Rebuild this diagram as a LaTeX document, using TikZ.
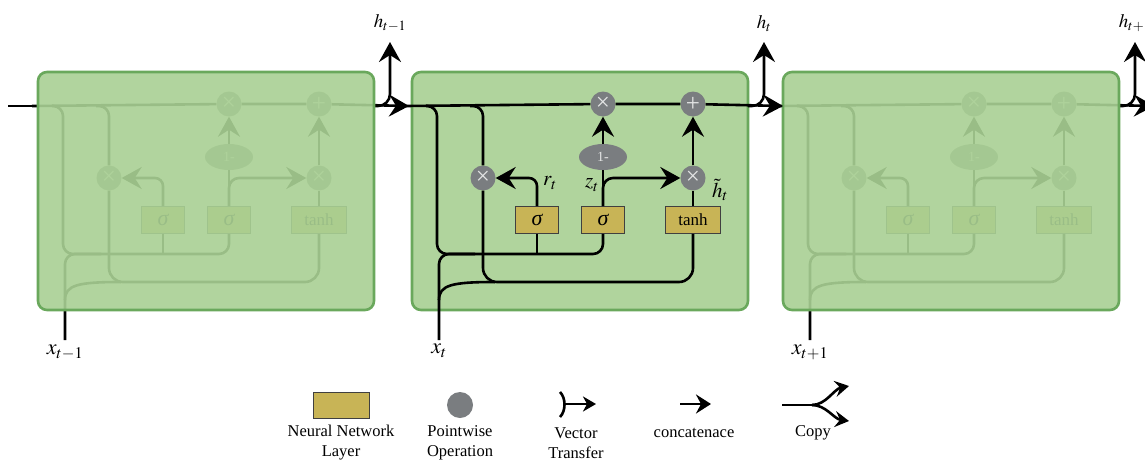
\documentclass[tikz,border=0pt]{standalone}
\usepackage{mathptmx}
\usepackage{fontspec}
\setmainfont{Liberation Serif}
\usetikzlibrary{arrows.meta}
\usetikzlibrary{shapes.geometric}
\usetikzlibrary{positioning}

\definecolor{cellgreen}{RGB}{176,212,157}
\definecolor{sidegreen}{RGB}{169,208,148}
\definecolor{celledge}{RGB}{106,168,92}
\definecolor{layergold}{RGB}{200,180,86}
\definecolor{opgray}{RGB}{122,125,128}

\tikzset{
  wire/.style={line width=2.6pt},
  vt/.style={wire,-{Stealth[length=20pt,width=22pt,inset=7pt]}},
  cellbox/.style={draw=celledge,fill=cellgreen,line width=2.6pt,rounded corners=9pt,minimum width=336pt,minimum height=238pt},
  layer/.style={draw=black!75,fill=layergold,line width=0.8pt,minimum height=27pt,inner sep=0pt,font=\fontsize{22}{22}\selectfont\itshape},
  pw/.style={circle,fill=opgray,minimum size=25pt,inner sep=0pt,text=white!80!opgray,font=\fontsize{25}{25}\selectfont},
  lbl/.style={inner sep=0pt,font=\fontsize{21}{21}\selectfont},
  hlbl/.style={inner sep=0pt,font=\fontsize{19}{19}\selectfont},
  legtext/.style={align=center,font=\fontsize{16.5}{20}\selectfont},
}

% one GRU cell, #1 = name prefix, #2 = shift
\newcommand{\grucell}[2]{%
\begin{scope}[xshift=#2]
\node[pw] (#1mulz) at (603,104) {×};
\node[pw] (#1add) at (693,104) {+};
\node[ellipse,fill=opgray,minimum width=48pt,minimum height=26pt,inner sep=0pt,text=white!80!opgray,font=\fontsize{14}{14}\selectfont] (#1onem) at (603,157) {1-};
\node[pw] (#1mulr) at (483,178) {×};
\node[pw] (#1mulh) at (693,178) {×};
\node[layer,minimum width=43pt] (#1sigr) at (537,220) {σ};
\node[layer,minimum width=43pt] (#1sigz) at (603,220) {σ};
\node[layer,minimum width=55pt,font=\fontsize{17}{17}\selectfont] (#1tanh) at (693,220) {tanh};
\coordinate (#1hin) at (406,106);
\coordinate (#1hout) at (783,106);
\coordinate (#1hup) at (764,42);
\coordinate (#1xin) at (439,340);

\draw[wire] (#1hin) -- (#1mulz) -- (#1add);
\draw[vt] (#1add) -- (#1hout);
\draw[vt,rounded corners=12pt] (748,106) -| (#1hup);

\draw[wire,rounded corners=10pt] (426,106) -| (437,254) -| (#1sigz.south);
\draw[wire] (#1sigr.south) -- ++(0,21);
\draw[wire,rounded corners=10pt] (470,106) -| (#1mulr);
\draw[wire,rounded corners=14pt] (#1mulr) -- (483,282) -- (693,282) -- (#1tanh.south);
\draw[wire,rounded corners=10pt] (#1xin) -- (439,254) -- (475,254);
\draw[wire] (439,300) .. controls (439,285) and (452,282) .. (495,282);

\draw[vt,rounded corners=8pt] (#1sigr.north) |- (#1mulr);
\draw[wire] (#1sigz.north) -- (#1onem);
\draw[vt,rounded corners=10pt] (#1sigz.north) |- (#1mulh);
\draw[vt] (#1onem) -- (#1mulz);
\draw[wire] (#1tanh) -- (#1mulh);
\draw[vt] (#1mulh) -- (#1add);
\end{scope}}

\begin{document}
\begin{tikzpicture}[x=1pt,y=-1pt]
\useasboundingbox (0,0) rectangle (1145,463);

% cells before and after, seen through the box
\draw[wire] (8,106) -- (40,106);
\grucell{l}{-374}
\grucell{r}{371}
\node[cellbox,fill=sidegreen,fill opacity=0.91] (lcell) at (206,191) {};
\node[cellbox,fill=sidegreen,fill opacity=0.91] (rcell) at (951,191) {};

% middle cell
\node[cellbox] (mcell) at (580,191) {};
\grucell{m}{0}

\node[lbl] (rlab) at (550,183) {$r_t$};
\node[lbl] (zlab) at (592,185) {$z_t$};
\node[lbl] (htlab) at (720,190) {$\tilde{h}_t$};

\node[hlbl,above=10pt of lhup] (lhlab) {$h_{t-1}$};
\node[hlbl,above=10pt of mhup] (mhlab) {$h_t$};
\node[hlbl,above=10pt of rhup] (rhlab) {$h_{t+1}$};

\node[lbl,font=\fontsize{22}{22}\selectfont,below=5pt of lxin] (lxlab) {$x_{t-1}$};
\node[lbl,font=\fontsize{22}{22}\selectfont,below=4pt of mxin] (mxlab) {$x_t$};
\node[lbl,font=\fontsize{22}{22}\selectfont,below=5pt of rxin] (rxlab) {$x_{t+1}$};

% legend
\node[layer,minimum width=56pt,minimum height=26pt] (lgnn) at (341,405) {};
\node[legtext] (lgnntxt) at (341,443) {Neural Network\\Layer};
\node[circle,fill=opgray,minimum size=26pt,inner sep=0pt] (lgpw) at (460,405) {};
\node[legtext] (lgpwtxt) at (460,443) {Pointwise\\Operation};

\coordinate (lgvta) at (563,404);
\coordinate (lgvtb) at (596,404);
\draw[wire] (560,392) .. controls (566,398) and (566,411) .. (560,417);
\draw[wire,-{Stealth[length=13pt,width=15pt,inset=4pt]}] (lgvta) -- (lgvtb);
\node[legtext] (lgvttxt) at (576,443) {Vector\\Transfer};

\coordinate (lgcca) at (680,404);
\coordinate (lgccb) at (711,404);
\draw[wire,-{Stealth[length=15pt,width=19pt,inset=5pt]}] (lgcca) -- (lgccb);
\node[legtext] (lgcctxt) at (694,433) {concatenace};

\coordinate (lgcpa) at (782,405);
\coordinate (lgcpb) at (812,405);
\coordinate (lgcpup) at (849,386);
\coordinate (lgcpdn) at (849,421);
\draw[wire] (lgcpa) -- (lgcpb);
\draw[wire,-{Stealth[length=14pt,width=16pt,inset=5pt]}] (lgcpb) .. controls (826,405) and (834,389) .. (lgcpup);
\draw[wire,-{Stealth[length=14pt,width=16pt,inset=5pt]}] (lgcpb) .. controls (826,405) and (834,419) .. (lgcpdn);
\node[legtext] (lgcptxt) at (813,433) {Copy};

\end{tikzpicture}
\end{document}
